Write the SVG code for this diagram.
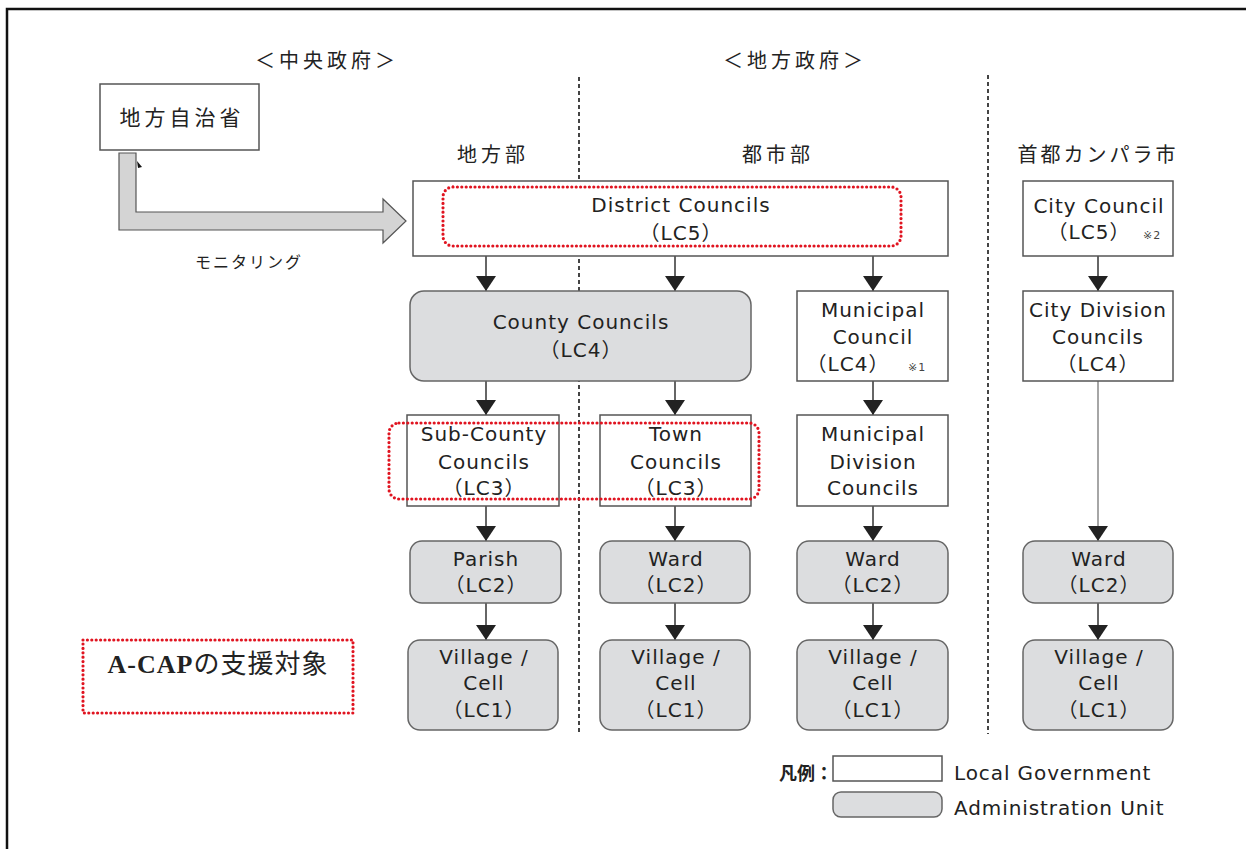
<svg xmlns="http://www.w3.org/2000/svg" width="1246" height="849" viewBox="0 0 1246 849">
<style>
.t{font-family:"DejaVu Sans","Noto Sans CJK JP",sans-serif;font-size:20px;fill:#222;text-anchor:middle;letter-spacing:1px}
.h{font-family:"Noto Sans CJK JP","Liberation Sans",sans-serif;font-size:20px;fill:#222;text-anchor:middle;letter-spacing:4px}
.lg{font-family:"DejaVu Sans","Noto Sans CJK JP",sans-serif;font-size:20px;fill:#222;letter-spacing:0.9px}
.note{font-family:"DejaVu Sans","Noto Sans CJK JP",sans-serif;font-size:11px;fill:#444;letter-spacing:1px}
.lgov{fill:#fff;stroke:#555;stroke-width:1.5}
.adm{fill:#dcdddf;stroke:#666;stroke-width:1.5}
.red{fill:none;stroke:#e01420;stroke-width:3.2;stroke-dasharray:0 4.4;stroke-linecap:round}
.sep{stroke:#444;stroke-width:2;stroke-dasharray:4 3;fill:none}
.c{stroke:#333;stroke-width:1.5;fill:none;marker-end:url(#ah)}
.cl{stroke:#888;stroke-width:1.5;fill:none;marker-end:url(#ah)}
</style>
<defs>
<marker id="ah" viewBox="0 0 15 20" refX="15" refY="10" markerWidth="15" markerHeight="20" markerUnits="userSpaceOnUse" orient="auto">
<path d="M0,0 L15,10 L0,20 z" fill="#222"/>
</marker>
</defs>
<rect width="1246" height="849" fill="#fff"/>
<path d="M7,849 L7,9 L1246,9" fill="none" stroke="#111" stroke-width="2.5"/>

<g id="headings">
<text class="h" x="327" y="68">＜中央政府＞</text>
<text class="h" x="795" y="68">＜地方政府＞</text>
<text class="h" x="493" y="162">地方部</text>
<text class="h" x="778" y="162">都市部</text>
<text class="h" x="1098" y="162" style="letter-spacing:3px">首都カンパラ市</text>
</g>

<g id="separators">
<line class="sep" x1="579" y1="77" x2="579" y2="734"/>
<line class="sep" x1="988" y1="75" x2="988" y2="734"/>
</g>

<g id="n-ministry">
<rect class="lgov" x="100" y="84" width="159" height="66"/>
<text class="h" x="182" y="125" style="font-size:21px">地方自治省</text>
</g>

<g id="monitoring">
<path d="M119,153 L136,153 L136,212 L383,212 L383,199 L406,221 L383,243 L383,230 L119,230 Z" fill="#d4d4d4" stroke="#555" stroke-width="1.2"/>
<polygon points="137,161 142,167 138,168" fill="#111"/>
<text class="h" x="249" y="268" style="font-size:16px;letter-spacing:2px">モニタリング</text>
</g>

<g id="connectors">
<line class="c" x1="486" y1="256" x2="486" y2="291"/>
<line class="c" x1="675" y1="256" x2="675" y2="291"/>
<line class="c" x1="873" y1="256" x2="873" y2="291"/>
<line class="c" x1="1098" y1="256" x2="1098" y2="291"/>
<line class="c" x1="486" y1="381" x2="486" y2="415"/>
<line class="c" x1="675" y1="381" x2="675" y2="415"/>
<line class="c" x1="873" y1="381" x2="873" y2="415"/>
<line class="cl" x1="1098" y1="381" x2="1098" y2="541"/>
<line class="c" x1="486" y1="506" x2="486" y2="541"/>
<line class="c" x1="675" y1="506" x2="675" y2="541"/>
<line class="c" x1="873" y1="506" x2="873" y2="541"/>
<line class="c" x1="486" y1="603" x2="486" y2="640"/>
<line class="c" x1="675" y1="603" x2="675" y2="640"/>
<line class="c" x1="873" y1="603" x2="873" y2="640"/>
<line class="c" x1="1098" y1="603" x2="1098" y2="640"/>
</g>

<g id="n-district">
<rect class="lgov" x="413" y="181" width="535" height="75"/>
<text class="t" x="681" y="212">District Councils</text>
<text class="t" x="681" y="240">（LC5）</text>
</g>

<g id="n-city">
<rect class="lgov" x="1023" y="181" width="150" height="75"/>
<text class="t" x="1099" y="213">City Council</text>
<text class="t" x="1089" y="239">（LC5）</text>
<text class="note" x="1143" y="239">※2</text>
</g>

<g id="n-county">
<rect class="adm" x="410" y="291" width="341" height="90" rx="14"/>
<text class="t" x="581" y="329">County Councils</text>
<text class="t" x="581" y="357">（LC4）</text>
</g>

<g id="n-municipal">
<rect class="lgov" x="797" y="291" width="151" height="90"/>
<text class="t" x="873" y="317">Municipal</text>
<text class="t" x="873" y="344">Council</text>
<text class="t" x="848" y="371">（LC4）</text>
<text class="note" x="908" y="371">※1</text>
</g>

<g id="n-citydiv">
<rect class="lgov" x="1023" y="291" width="150" height="90"/>
<text class="t" x="1098" y="317">City Division</text>
<text class="t" x="1098" y="344">Councils</text>
<text class="t" x="1098" y="371">（LC4）</text>
</g>

<g id="n-subcounty">
<rect class="lgov" x="407" y="415" width="152" height="91"/>
<text class="t" x="484" y="441">Sub-County</text>
<text class="t" x="484" y="469">Councils</text>
<text class="t" x="484" y="495">（LC3）</text>
</g>

<g id="n-town">
<rect class="lgov" x="600" y="415" width="151" height="91"/>
<text class="t" x="676" y="441">Town</text>
<text class="t" x="676" y="469">Councils</text>
<text class="t" x="676" y="495">（LC3）</text>
</g>

<g id="n-mundiv">
<rect class="lgov" x="797" y="415" width="151" height="91"/>
<text class="t" x="873" y="441">Municipal</text>
<text class="t" x="873" y="469">Division</text>
<text class="t" x="873" y="495">Councils</text>
</g>

<g id="n-parish">
<rect class="adm" x="410" y="541" width="151" height="62" rx="12"/>
<text class="t" x="486" y="566">Parish</text>
<text class="t" x="486" y="592">（LC2）</text>
</g>
<g id="n-ward1">
<rect class="adm" x="600" y="541" width="150" height="62" rx="12"/>
<text class="t" x="676" y="566">Ward</text>
<text class="t" x="676" y="592">（LC2）</text>
</g>
<g id="n-ward2">
<rect class="adm" x="797" y="541" width="151" height="62" rx="12"/>
<text class="t" x="873" y="566">Ward</text>
<text class="t" x="873" y="592">（LC2）</text>
</g>
<g id="n-ward3">
<rect class="adm" x="1023" y="541" width="150" height="62" rx="12"/>
<text class="t" x="1099" y="566">Ward</text>
<text class="t" x="1099" y="592">（LC2）</text>
</g>

<g id="n-village1">
<rect class="adm" x="408" y="640" width="150" height="90" rx="12"/>
<text class="t" x="484" y="664">Village /</text>
<text class="t" x="484" y="690">Cell</text>
<text class="t" x="484" y="717">（LC1）</text>
</g>
<g id="n-village2">
<rect class="adm" x="600" y="640" width="150" height="90" rx="12"/>
<text class="t" x="676" y="664">Village /</text>
<text class="t" x="676" y="690">Cell</text>
<text class="t" x="676" y="717">（LC1）</text>
</g>
<g id="n-village3">
<rect class="adm" x="797" y="640" width="151" height="90" rx="12"/>
<text class="t" x="873" y="664">Village /</text>
<text class="t" x="873" y="690">Cell</text>
<text class="t" x="873" y="717">（LC1）</text>
</g>
<g id="n-village4">
<rect class="adm" x="1023" y="640" width="150" height="90" rx="12"/>
<text class="t" x="1099" y="664">Village /</text>
<text class="t" x="1099" y="690">Cell</text>
<text class="t" x="1099" y="717">（LC1）</text>
</g>

<g id="highlights">
<rect class="red" x="443" y="187" width="458" height="59" rx="10"/>
<rect class="red" x="389" y="423" width="370" height="76" rx="10"/>
</g>

<g id="acap-legend">
<rect class="red" x="83" y="640" width="270" height="73"/>
<text x="218" y="673" style="font-family:'Liberation Serif','Noto Sans CJK JP',serif;font-size:26px;fill:#222;text-anchor:middle;letter-spacing:1px"><tspan font-weight="bold">A-CAP</tspan>の支援対象</text>
</g>

<g id="legend">
<text x="779" y="780" style="font-family:'Noto Sans CJK JP',sans-serif;font-size:18px;font-weight:bold;fill:#222">凡例：</text>
<rect class="lgov" x="833" y="756" width="109" height="25"/>
<text class="lg" x="954" y="780">Local Government</text>
<rect class="adm" x="833" y="792" width="109" height="25" rx="8"/>
<text class="lg" x="954" y="815">Administration Unit</text>
</g>
</svg>
